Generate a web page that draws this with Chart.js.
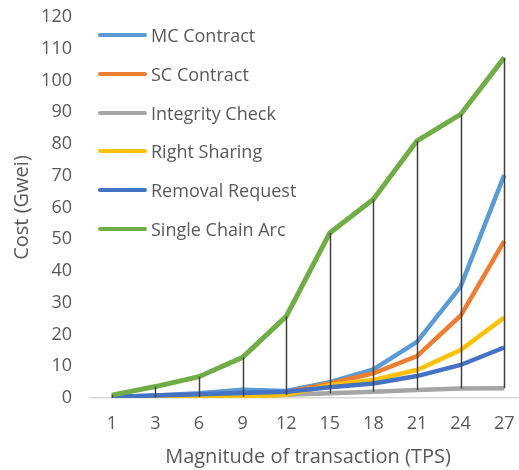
<!DOCTYPE html>
<html>
<head>
<meta charset="utf-8">
<script src="https://cdn.jsdelivr.net/npm/chart.js@4"></script>
<style>
  html,body{margin:0;padding:0;background:#fff;overflow:hidden;}
  #wrap{position:relative;width:519px;height:470px;overflow:hidden;}
  #chart{position:absolute;left:0;top:0;}
  #legend{position:absolute;left:98px;top:15.6px;font-family:"Open Sans",sans-serif;font-size:18px;color:#595959;}
  .lg-item{display:flex;align-items:center;height:38.8px;}
  .lg-line{width:49px;height:4px;border-radius:2px;margin-right:4px;}
</style>
</head>
<body>
<div id="wrap">
  <canvas id="chart" width="526" height="470"></canvas>
  <div id="legend"></div>
</div>
<script>
/* ── Data ── */
const tpsLabels=['1','3','6','9','12','15','18','21','24','27'];
const seriesNames=['MC Contract','SC Contract','Integrity Check','Right Sharing','Removal Request','Single Chain Arc'];
const seriesColors=['#5B9BD5','#ED7D31','#A5A5A5','#FFC000','#4472C4','#70AD47'];
const mcContract=[0.3,0.8,1.5,2.6,2.2,5.0,9.0,17.7,35.1,70.2];
const scContract=[0.2,0.6,1.0,1.4,1.8,4.6,7.8,13.2,25.9,49.4];
const integrityCheck=[0.1,0.2,0.3,0.5,1.0,1.5,2.0,2.5,3.0,3.1];
const rightSharing=[0.1,0.2,0.3,0.4,1.0,4.1,5.7,8.8,15.1,25.3];
const removalRequest=[0.3,0.8,1.2,1.6,2.0,3.4,4.6,6.9,10.4,15.9];
const singleChainArc=[0.9,3.6,6.7,12.8,25.7,52.0,62.6,81.0,89.3,107.2];
const yTicks={min:0,max:120,step:10};

const seriesValues=[mcContract,scContract,integrityCheck,rightSharing,removalRequest,singleChainArc];
const FONT='"Open Sans", sans-serif';
const TXT='#595959';

/* ── High-low lines: from highest to lowest series at each category ── */
const highLow={
  id:'highLow',
  afterDatasetsDraw(chart){
    const {ctx,scales:{x,y}}=chart;
    ctx.save();
    ctx.strokeStyle='#404040';
    ctx.lineWidth=1.5;
    tpsLabels.forEach((_,i)=>{
      const vals=chart.data.datasets.map(d=>d.data[i]);
      const px=Math.round(x.getPixelForValue(i))+0.5;
      ctx.beginPath();
      ctx.moveTo(px,y.getPixelForValue(Math.max(...vals)));
      ctx.lineTo(px,y.getPixelForValue(Math.min(...vals)));
      ctx.stroke();
    });
    ctx.restore();
  }
};

const chart=new Chart(document.getElementById('chart'),{
  type:'line',
  data:{
    labels:tpsLabels,
    datasets:seriesNames.map((name,i)=>({
      label:name,
      data:seriesValues[i],
      borderColor:seriesColors[i],
      backgroundColor:seriesColors[i],
      borderWidth:i===5?5:4.5,
      pointRadius:0,
      tension:0,
      order:seriesNames.length-i
    }))
  },
  options:{
    responsive:false,
    animation:false,
    layout:{padding:{top:17,right:0,left:0,bottom:0}},
    plugins:{legend:{display:false},tooltip:{enabled:false}},
    scales:{
      x:{
        offset:true,
        grid:{display:false,drawTicks:false},
        border:{color:'#D9D9D9',width:1.5},
        ticks:{color:TXT,font:{family:FONT,size:18},padding:15,maxRotation:0},
        title:{display:true,text:'Magnitude of transaction (TPS)',color:TXT,font:{family:FONT,size:20},padding:{top:4,bottom:1}},
        afterFit:s=>{s.height=72;s.paddingLeft=0;s.paddingRight=0;}
      },
      y:{
        min:yTicks.min,max:yTicks.max,
        grid:{display:false,drawTicks:false},
        border:{display:false},
        ticks:{stepSize:yTicks.step,color:TXT,font:{family:FONT,size:18},padding:18},
        title:{display:true,text:'Cost (Gwei)',color:TXT,font:{family:FONT,size:20},padding:{top:10,bottom:0}},
        afterFit:s=>{s.width=90;s.paddingTop=0;s.paddingBottom=0;}
      }
    }
  },
  plugins:[highLow]
});

/* ── HTML legend inside the plot area ── */
const legend=document.getElementById('legend');
seriesNames.forEach((name,i)=>{
  const row=document.createElement('div');
  row.className='lg-item';
  row.innerHTML=`<span class="lg-line" style="background:${seriesColors[i]}"></span><span>${name}</span>`;
  legend.appendChild(row);
});
</script>
</body>
</html>
